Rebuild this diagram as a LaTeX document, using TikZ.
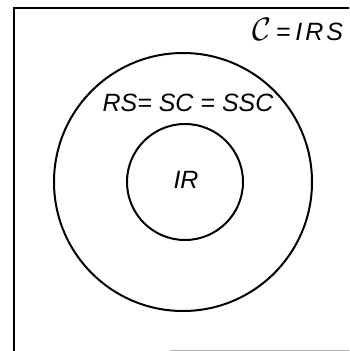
\documentclass[tikz,border=0pt]{standalone}
\usepackage{fontspec}
\setsansfont{Liberation Sans}
\usetikzlibrary{positioning}

\begin{document}
\begin{tikzpicture}[x=1pt,y=-1pt,line width=2pt,
  hand/.style={font=\sffamily\itshape\fontsize{25}{27}\selectfont,inner sep=0pt},
  ring/.style={circle,draw,inner sep=0pt}]
\useasboundingbox (0,0) rectangle (349,351);
\clip (0,0) rectangle (349,351);
% frame
\coordinate (tl) at (14,8);
\coordinate (tr) at (352,8);
\coordinate (bl) at (14,352);
\coordinate (bm) at (170,350);
\coordinate (br) at (352,350);
\draw (bl) -- (tl) -- (tr);
\draw[gray!60,line width=1pt] (bm) -- (br);
% sets
\node[ring,minimum size=258pt] (outer) at (183,182) {};
\node[ring,minimum size=116pt] (inner) at (185,182) {};
\node[hand,anchor=west] (irs) at (251,30) {\scalebox{1.3}{$\mathcal{C}$}\kern5pt=\kern5pt I\kern3pt R\kern3pt S};
\node[hand] (rs) at (188,103) {RS= SC = SSC};
\node[hand] (ir) at (186,180) {IR};
\end{tikzpicture}
\end{document}
